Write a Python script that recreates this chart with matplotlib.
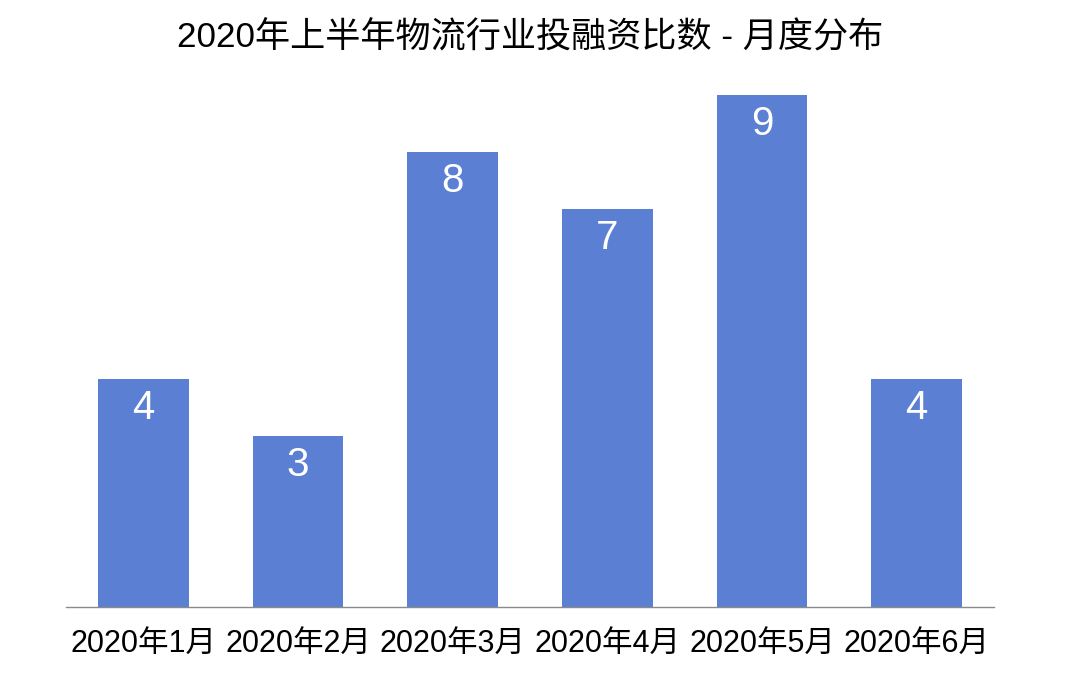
import matplotlib
matplotlib.use("Agg")
import matplotlib.pyplot as plt

plt.rcParams["font.family"] = ["Liberation Sans", "Noto Sans CJK SC", "DejaVu Sans"]

months = ["2020年1月", "2020年2月", "2020年3月", "2020年4月", "2020年5月", "2020年6月"]
counts = [4, 3, 8, 7, 9, 4]
title = "2020年上半年物流行业投融资比数 - 月度分布"

fig = plt.figure(figsize=(10.8, 6.9), dpi=100)
ax = fig.add_axes([0.0611, 0.1203, 0.8593, 0.742])

x = range(len(months))
bars = ax.bar(x, counts, width=0.587, color="#5B7FD3")
for rect, v in zip(bars, counts):
    ax.annotate(str(v), (rect.get_x() + rect.get_width() / 2, v),
                xytext=(0, -29), textcoords="offset pixels",
                ha="center", va="center", color="white", fontsize=29)

ax.set_xlim(-0.5, len(months) - 0.5)
ax.set_ylim(0, 9)
ax.set_xticks(list(x))
ax.set_xticklabels(months, fontsize=22)
ax.tick_params(axis="x", length=0, pad=16)
ax.set_yticks([])
for side in ["top", "right", "left"]:
    ax.spines[side].set_visible(False)
ax.spines["bottom"].set_color("#8a8a8a")
ax.spines["bottom"].set_linewidth(1)

fig.text(530 / 1080, 1 - 38 / 690, title, ha="center", va="center", fontsize=25.3)

fig.savefig("out.png", dpi=100, facecolor="white")
